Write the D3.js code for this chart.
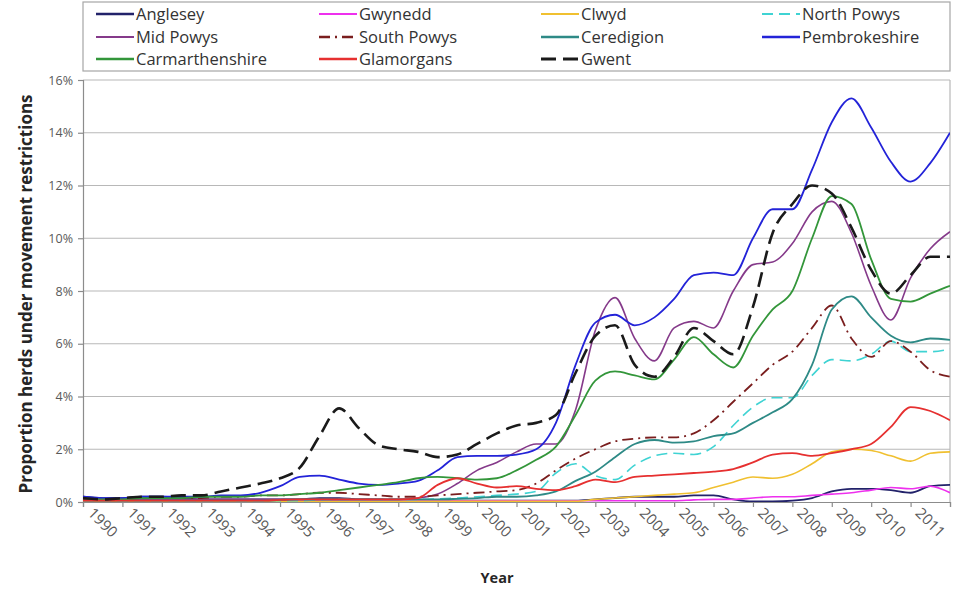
<!DOCTYPE html>
<html>
<head>
<meta charset="utf-8">
<script src="https://cdn.jsdelivr.net/npm/d3@7"></script>
<style>
body{margin:0;background:#fff;}
text{font-family:"Open Sans",Lato,sans-serif;}
</style>
</head>
<body>
<svg id="chart" width="961" height="591"></svg>
<script>
// half-year steps from 1990 to 2012
const years = d3.range(0, 45).map(i => 1990 + i / 2);
const yearLabels = ["1990","1991","1992","1993","1994","1995","1996","1997","1998","1999","2000","2001","2002","2003","2004","2005","2006","2007","2008","2009","2010","2011"];
const yTicks = [0, 2, 4, 6, 8, 10, 12, 14, 16];

// values in % of herds, one per half year
const anglesey = [0.2,0.15,0.15,0.2,0.2,0.15,0.1,0.1,0.1,0.1,0.1,0.1,0.15,0.15,0.1,0.1,0.05,0.05,0.05,0.05,0.05,0.05,0.05,0.05,
  0.05,0.05,0.1,0.15,0.2,0.2,0.2,0.25,0.25,0.1,0.02,0.02,0.05,0.15,0.4,0.5,0.5,0.45,0.35,0.6,0.65];
const gwynedd = [0.05,0.05,0.05,0.05,0.05,0.05,0.05,0.05,0.05,0.05,0.05,0.05,0.05,0.05,0.05,0.05,0.05,0.05,0.05,0.05,0.05,0.05,0.05,0.05,
  0.05,0.05,0.05,0.05,0.05,0.05,0.05,0.08,0.1,0.1,0.15,0.2,0.2,0.25,0.3,0.35,0.45,0.55,0.5,0.6,0.35];
const clwyd = [0.03,0.03,0.03,0.03,0.03,0.03,0.03,0.03,0.03,0.03,0.03,0.03,0.03,0.03,0.03,0.03,0.03,0.03,0.03,0.03,0.03,0.03,0.03,0.03,
  0.03,0.03,0.1,0.15,0.2,0.25,0.3,0.35,0.55,0.75,0.95,0.9,1.05,1.45,1.9,2.0,1.95,1.75,1.55,1.85,1.9];
const northPowys = [0.05,0.05,0.05,0.05,0.05,0.05,0.05,0.05,0.05,0.05,0.05,0.05,0.08,0.1,0.1,0.1,0.1,0.1,0.12,0.15,0.2,0.25,0.3,0.4,
  1.1,1.45,1.0,0.85,1.4,1.75,1.85,1.8,2.1,2.9,3.6,3.95,3.95,4.8,5.4,5.35,5.6,6.1,5.7,5.7,5.8];
const midPowys = [0.1,0.1,0.1,0.1,0.1,0.1,0.1,0.1,0.1,0.1,0.1,0.1,0.1,0.1,0.1,0.1,0.1,0.15,0.3,0.7,1.2,1.5,1.9,2.2,
  2.2,3.5,6.5,7.75,6.2,5.35,6.6,6.85,6.6,8.0,9.0,9.1,9.8,11.0,11.4,10.2,8.2,6.9,8.5,9.6,10.25];
const southPowys = [0.1,0.1,0.1,0.15,0.15,0.15,0.15,0.2,0.2,0.25,0.25,0.3,0.35,0.35,0.3,0.25,0.2,0.2,0.25,0.3,0.35,0.4,0.45,0.7,
  1.2,1.65,2.0,2.3,2.4,2.45,2.45,2.6,3.1,3.8,4.5,5.2,5.7,6.6,7.45,6.2,5.5,6.1,5.7,5.0,4.75];
const ceredigion = [0.05,0.05,0.05,0.05,0.05,0.05,0.05,0.05,0.05,0.05,0.08,0.1,0.1,0.1,0.1,0.1,0.1,0.1,0.1,0.12,0.15,0.2,0.2,0.25,
  0.4,0.8,1.15,1.7,2.2,2.35,2.25,2.3,2.5,2.6,3.0,3.4,3.9,5.2,7.3,7.8,7.0,6.3,6.05,6.2,6.15];
const pembrokeshire = [0.2,0.15,0.15,0.2,0.2,0.2,0.2,0.25,0.25,0.35,0.6,0.95,1.0,0.85,0.7,0.65,0.7,0.8,1.2,1.7,1.75,1.75,1.8,2.0,
  3.0,5.2,6.8,7.1,6.7,7.0,7.7,8.6,8.7,8.6,10.0,11.1,11.1,12.6,14.4,15.3,14.2,12.9,12.15,12.85,14.0];
const carmarthenshire = [0.15,0.1,0.1,0.15,0.15,0.15,0.2,0.2,0.2,0.25,0.25,0.3,0.35,0.45,0.55,0.65,0.75,0.9,0.95,0.9,0.85,0.9,1.2,1.6,
  2.1,3.3,4.6,4.95,4.8,4.65,5.4,6.25,5.6,5.1,6.3,7.3,8.0,10.0,11.6,11.3,9.2,7.7,7.6,7.9,8.2];
const glamorgans = [0.05,0.05,0.05,0.05,0.05,0.05,0.05,0.05,0.05,0.05,0.08,0.1,0.1,0.1,0.1,0.1,0.1,0.15,0.65,0.9,0.7,0.55,0.6,0.5,
  0.45,0.6,0.85,0.75,0.95,1.0,1.05,1.1,1.15,1.25,1.5,1.8,1.85,1.75,1.85,2.0,2.2,2.85,3.6,3.45,3.1];
const gwent = [0.15,0.1,0.15,0.2,0.2,0.25,0.25,0.4,0.55,0.7,0.9,1.3,2.5,3.55,2.8,2.15,2.0,1.9,1.7,1.8,2.2,2.6,2.9,3.0,
  3.3,4.9,6.3,6.7,5.2,4.75,5.5,6.6,6.1,5.6,7.4,10.2,11.3,12.0,11.7,10.4,8.8,7.9,8.6,9.3,9.3];

const series = [
  {name:"Anglesey", values:anglesey, color:"#22226a", dash:null, w:1.8},
  {name:"Gwynedd", values:gwynedd, color:"#ee30ee", dash:null, w:1.6},
  {name:"Clwyd", values:clwyd, color:"#f0c030", dash:null, w:1.6},
  {name:"North Powys", values:northPowys, color:"#3fd3d3", dash:"11,6", w:1.6},
  {name:"Mid Powys", values:midPowys, color:"#853a8a", dash:null, w:1.6},
  {name:"South Powys", values:southPowys, color:"#7a1e1e", dash:"11,5,2,5", w:1.8},
  {name:"Ceredigion", values:ceredigion, color:"#2e8a86", dash:null, w:1.8},
  {name:"Pembrokeshire", values:pembrokeshire, color:"#2323d8", dash:null, w:1.8},
  {name:"Carmarthenshire", values:carmarthenshire, color:"#33963a", dash:null, w:1.8},
  {name:"Glamorgans", values:glamorgans, color:"#e63030", dash:null, w:1.8},
  {name:"Gwent", values:gwent, color:"#1a1a1a", dash:"15,7", w:2.6}
];

const svg = d3.select("#chart");
const plotL = 83, plotR = 950, plotT = 80, plotB = 502;

const x = d3.scaleLinear().domain([1990, 2012]).range([plotL, plotR]);
const y = d3.scaleLinear().domain([0, 16]).range([plotB, plotT]);

/* grid */
svg.append("g").selectAll("line").data(yTicks.filter(d => d > 0)).join("line")
  .attr("x1", plotL).attr("x2", plotR)
  .attr("y1", d => y(d)).attr("y2", d => y(d))
  .attr("stroke", "#b8b8b8").attr("stroke-width", 1.2);
svg.append("line").attr("x1", plotR).attr("x2", plotR).attr("y1", plotT).attr("y2", plotB)
  .attr("stroke", "#b8b8b8").attr("stroke-width", 1.2);

/* axes */
const yAxis = svg.append("g").attr("transform", `translate(${plotL},0)`)
  .call(d3.axisLeft(y).tickValues(yTicks).tickFormat(d => d + "%").tickSize(5).tickPadding(5));
const xAxis = svg.append("g").attr("transform", `translate(0,${plotB})`)
  .call(d3.axisBottom(x).tickValues(d3.range(1990, 2013)).tickFormat("").tickSize(5));
[yAxis, xAxis].forEach(g => {
  g.select(".domain").attr("stroke", "#8c8c8c").attr("stroke-width", 1.2);
  g.selectAll(".tick line").attr("stroke", "#8c8c8c").attr("stroke-width", 1.2);
});
yAxis.selectAll("text").attr("font-size", 12.5).attr("fill", "#595959")
  .attr("font-family", "'Open Sans',sans-serif");

svg.append("g").selectAll("text").data(yearLabels).join("text")
  .attr("transform", d => `translate(${x(+d) + 4},${plotB + 12}) rotate(45)`)
  .attr("font-size", 15).attr("fill", "#595959")
  .text(d => d);

/* titles */
svg.append("text").attr("transform", `translate(32,${(plotT + plotB) / 2 + 3}) rotate(-90)`)
  .attr("text-anchor", "middle").attr("font-size", 17).attr("font-weight", "bold").attr("fill", "#262626")
  .text("Proportion herds under movement restrictions");
svg.append("text").attr("x", 497).attr("y", 583)
  .attr("text-anchor", "middle").attr("font-size", 14.5).attr("font-weight", "bold").attr("fill", "#262626")
  .text("Year");

/* lines */
svg.append("clipPath").attr("id", "plot").append("rect")
  .attr("x", plotL).attr("y", plotT - 5).attr("width", plotR - plotL).attr("height", plotB - plotT + 5);

const line = d3.line().x((d, i) => x(years[i])).y(d => y(d)).curve(d3.curveMonotoneX);

svg.append("g").attr("clip-path", "url(#plot)").selectAll("path").data(series).join("path")
  .attr("d", d => line(d.values))
  .attr("fill", "none")
  .attr("stroke", d => d.color)
  .attr("stroke-width", d => d.w)
  .attr("stroke-dasharray", d => d.dash);

/* legend */
svg.append("rect").attr("x", plotL).attr("y", 2).attr("width", plotR - plotL).attr("height", 69)
  .attr("fill", "#fff").attr("stroke", "#a6a6a6").attr("stroke-width", 1.2);
const colX = [96, 319, 541, 762];
const rowY = [14, 37, 59];
const items = svg.append("g").selectAll("g").data(series).join("g")
  .attr("transform", (d, i) => `translate(${colX[i % 4]},${rowY[Math.floor(i / 4)]})`);
items.append("line").attr("x1", 0).attr("x2", 38).attr("y1", 0).attr("y2", 0)
  .attr("stroke", d => d.color).attr("stroke-width", d => d.w + 0.6)
  .attr("stroke-dasharray", d => d.dash);
items.append("text").attr("x", 40).attr("y", 6).attr("font-size", 16.5).attr("fill", "#333")
  .text(d => d.name);
</script>
</body>
</html>
